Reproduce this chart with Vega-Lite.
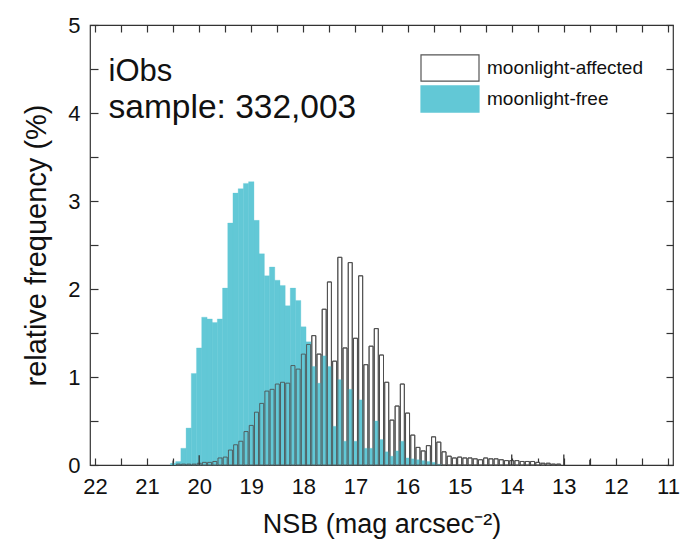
{
  "$schema": "https://vega.github.io/schema/vega-lite/v6.json",
  "width": 583,
  "height": 440,
  "autosize": "none",
  "padding": {"left": 90, "top": 25, "right": 11, "bottom": 90},
  "background": "white",
  "config": {
    "font": "Liberation Sans",
    "view": {"stroke": "#333333", "strokeWidth": 1.2},
    "axis": {"domain": false, "grid": false, "labelFont": "Liberation Sans", "titleFont": "Liberation Sans", "labelColor": "#111111", "titleColor": "#111111", "tickColor": "#333333", "tickWidth": 1.2, "titleFontWeight": "normal", "labelOverlap": false},
    "legend": {"labelFont": "Liberation Sans"}
  },
  "resolve": {"axis": {"x": "independent", "y": "independent"}},
  "datasets": {
    "free": [
      {"nsb": 20.5, "freq": 0.02}, {"nsb": 20.4, "freq": 0.04}, {"nsb": 20.3, "freq": 0.19}, {"nsb": 20.2, "freq": 0.42},
      {"nsb": 20.1, "freq": 1.04}, {"nsb": 20.0, "freq": 1.33}, {"nsb": 19.9, "freq": 1.68}, {"nsb": 19.8, "freq": 1.66},
      {"nsb": 19.7, "freq": 1.62}, {"nsb": 19.6, "freq": 1.66}, {"nsb": 19.5, "freq": 2.01}, {"nsb": 19.4, "freq": 2.75},
      {"nsb": 19.3, "freq": 3.09}, {"nsb": 19.2, "freq": 3.14}, {"nsb": 19.1, "freq": 3.2}, {"nsb": 19.0, "freq": 3.22},
      {"nsb": 18.9, "freq": 2.78}, {"nsb": 18.8, "freq": 2.4}, {"nsb": 18.7, "freq": 2.15}, {"nsb": 18.6, "freq": 2.25},
      {"nsb": 18.5, "freq": 2.1}, {"nsb": 18.4, "freq": 2.04}, {"nsb": 18.3, "freq": 1.81}, {"nsb": 18.2, "freq": 2.01},
      {"nsb": 18.1, "freq": 1.87}, {"nsb": 18.0, "freq": 1.57}, {"nsb": 17.9, "freq": 1.4}, {"nsb": 17.8, "freq": 1.12},
      {"nsb": 17.7, "freq": 0.93}, {"nsb": 17.6, "freq": 1.24}, {"nsb": 17.5, "freq": 1.12}, {"nsb": 17.4, "freq": 0.44},
      {"nsb": 17.3, "freq": 0.97}, {"nsb": 17.2, "freq": 0.27}, {"nsb": 17.1, "freq": 0.86}, {"nsb": 17.0, "freq": 0.27},
      {"nsb": 16.9, "freq": 0.74}, {"nsb": 16.8, "freq": 0.19}, {"nsb": 16.7, "freq": 0.19}, {"nsb": 16.6, "freq": 0.5},
      {"nsb": 16.5, "freq": 0.29}, {"nsb": 16.4, "freq": 0.15}, {"nsb": 16.3, "freq": 0.1}, {"nsb": 16.2, "freq": 0.16},
      {"nsb": 16.1, "freq": 0.27}, {"nsb": 16.0, "freq": 0.08}, {"nsb": 15.9, "freq": 0.07}, {"nsb": 15.8, "freq": 0.06},
      {"nsb": 15.7, "freq": 0.05}, {"nsb": 15.6, "freq": 0.04}, {"nsb": 15.5, "freq": 0.03}, {"nsb": 15.4, "freq": 0.01}
    ],
    "affected": [
      {"nsb": 20.4, "freq": 0.01}, {"nsb": 20.3, "freq": 0.01}, {"nsb": 20.2, "freq": 0.01}, {"nsb": 20.1, "freq": 0.01},
      {"nsb": 20.0, "freq": 0.02}, {"nsb": 19.9, "freq": 0.03}, {"nsb": 19.8, "freq": 0.03}, {"nsb": 19.7, "freq": 0.04},
      {"nsb": 19.6, "freq": 0.08}, {"nsb": 19.5, "freq": 0.09}, {"nsb": 19.4, "freq": 0.17}, {"nsb": 19.3, "freq": 0.23},
      {"nsb": 19.2, "freq": 0.27}, {"nsb": 19.1, "freq": 0.38}, {"nsb": 19.0, "freq": 0.45}, {"nsb": 18.9, "freq": 0.6},
      {"nsb": 18.8, "freq": 0.7}, {"nsb": 18.7, "freq": 0.84}, {"nsb": 18.6, "freq": 0.86}, {"nsb": 18.5, "freq": 0.92},
      {"nsb": 18.4, "freq": 0.94}, {"nsb": 18.3, "freq": 0.93}, {"nsb": 18.2, "freq": 1.13}, {"nsb": 18.1, "freq": 1.09},
      {"nsb": 18.0, "freq": 1.26}, {"nsb": 17.9, "freq": 1.37}, {"nsb": 17.8, "freq": 1.47}, {"nsb": 17.7, "freq": 1.26},
      {"nsb": 17.6, "freq": 1.77}, {"nsb": 17.5, "freq": 2.08}, {"nsb": 17.4, "freq": 1.18}, {"nsb": 17.3, "freq": 2.36},
      {"nsb": 17.2, "freq": 1.33}, {"nsb": 17.1, "freq": 2.3}, {"nsb": 17.0, "freq": 1.44}, {"nsb": 16.9, "freq": 2.15},
      {"nsb": 16.8, "freq": 1.14}, {"nsb": 16.7, "freq": 1.35}, {"nsb": 16.6, "freq": 1.55}, {"nsb": 16.5, "freq": 1.25},
      {"nsb": 16.4, "freq": 0.94}, {"nsb": 16.3, "freq": 0.51}, {"nsb": 16.2, "freq": 0.67}, {"nsb": 16.1, "freq": 0.92},
      {"nsb": 16.0, "freq": 0.59}, {"nsb": 15.9, "freq": 0.34}, {"nsb": 15.8, "freq": 0.2}, {"nsb": 15.7, "freq": 0.16},
      {"nsb": 15.6, "freq": 0.22}, {"nsb": 15.5, "freq": 0.32}, {"nsb": 15.4, "freq": 0.26}, {"nsb": 15.3, "freq": 0.15},
      {"nsb": 15.2, "freq": 0.1}, {"nsb": 15.1, "freq": 0.08}, {"nsb": 15.0, "freq": 0.09}, {"nsb": 14.9, "freq": 0.08},
      {"nsb": 14.8, "freq": 0.08}, {"nsb": 14.7, "freq": 0.07}, {"nsb": 14.6, "freq": 0.06}, {"nsb": 14.5, "freq": 0.08},
      {"nsb": 14.4, "freq": 0.07}, {"nsb": 14.3, "freq": 0.07}, {"nsb": 14.2, "freq": 0.06}, {"nsb": 14.1, "freq": 0.05},
      {"nsb": 14.0, "freq": 0.05}, {"nsb": 13.9, "freq": 0.05}, {"nsb": 13.8, "freq": 0.04}, {"nsb": 13.7, "freq": 0.04},
      {"nsb": 13.6, "freq": 0.04}, {"nsb": 13.5, "freq": 0.03}, {"nsb": 13.4, "freq": 0.02}, {"nsb": 13.3, "freq": 0.02},
      {"nsb": 13.2, "freq": 0.01}, {"nsb": 13.1, "freq": 0.01}
    ],
    "spikes": [
      {"nsb": 20.5, "freq": 0.05}, {"nsb": 20.0, "freq": 0.11}, {"nsb": 14.0, "freq": 0.12},
      {"nsb": 13.0, "freq": 0.12}, {"nsb": 12.5, "freq": 0.06}
    ]
  },
  "layer": [
    {
      "data": {"name": "affected"},
      "transform": [{"calculate": "'moonlight-affected'", "as": "series"}],
      "mark": {"type": "bar", "size": 4, "strokeWidth": 1},
      "encoding": {
        "x": {"field": "nsb", "type": "quantitative", "scale": {"domain": [11, 22], "reverse": true, "nice": false, "zero": false},
          "axis": {"orient": "bottom", "values": [22, 21.5, 21, 20.5, 20, 19.5, 19, 18.5, 18, 17.5, 17, 16.5, 16, 15.5, 15, 14.5, 14, 13.5, 13, 12.5, 12, 11.5, 11],
            "labelExpr": "datum.value % 1 === 0 ? format(datum.value, 'd') : ''", "labelFontSize": 22, "tickSize": -7, "labelPadding": 18,
            "title": "NSB (mag arcsec⁻²)", "titleFontSize": 27, "titlePadding": 14}},
        "y": {"field": "freq", "type": "quantitative", "scale": {"domain": [0, 5], "nice": false},
          "axis": {"orient": "left", "values": [0, 0.5, 1, 1.5, 2, 2.5, 3, 3.5, 4, 4.5, 5],
            "labelExpr": "datum.value % 1 === 0 ? format(datum.value, 'd') : ''", "labelFontSize": 22, "tickSize": -8, "labelPadding": 18,
            "title": "relative frequency (%)", "titleFontSize": 29, "titlePadding": 16}},
        "fill": {"field": "series", "type": "nominal", "scale": {"domain": ["moonlight-affected", "moonlight-free"], "range": ["#ffffff", "#62c8d6"]},
          "legend": {"orient": "none", "legendX": 330, "legendY": 29, "title": null, "symbolType": "M-1,-0.45H1V0.45H-1Z", "symbolSize": 3364, "clipHeight": 28, "rowPadding": 3, "labelFontSize": 19, "labelColor": "#111111", "labelOffset": 7, "symbolStrokeWidth": 1.2, "padding": 0}},
        "stroke": {"field": "series", "type": "nominal", "scale": {"domain": ["moonlight-affected", "moonlight-free"], "range": ["#555555", "#62c8d6"]},
          "legend": {"orient": "none", "legendX": 330, "legendY": 29, "title": null, "symbolType": "M-1,-0.45H1V0.45H-1Z", "symbolSize": 3364, "clipHeight": 28, "rowPadding": 3, "labelFontSize": 19, "labelColor": "#111111", "labelOffset": 7, "symbolStrokeWidth": 1.2, "padding": 0}}
      }
    },
    {
      "data": {"name": "free"},
      "transform": [{"calculate": "'moonlight-free'", "as": "series"}],
      "mark": {"type": "bar", "size": 5.4, "strokeWidth": 0.3},
      "encoding": {
        "x": {"field": "nsb", "type": "quantitative",
          "axis": {"orient": "top", "values": [22, 21.5, 21, 20.5, 20, 19.5, 19, 18.5, 18, 17.5, 17, 16.5, 16, 15.5, 15, 14.5, 14, 13.5, 13, 12.5, 12, 11.5, 11], "labels": false, "tickSize": -7, "title": null}},
        "y": {"field": "freq", "type": "quantitative",
          "axis": {"orient": "right", "values": [0, 0.5, 1, 1.5, 2, 2.5, 3, 3.5, 4, 4.5, 5], "labels": false, "tickSize": -7, "title": null}},
        "fill": {"field": "series", "type": "nominal"},
        "stroke": {"field": "series", "type": "nominal"}
      }
    },
    {
      "data": {"name": "affected"},
      "mark": {"type": "bar", "size": 4, "fillOpacity": 0, "stroke": "#4d4d4d", "strokeWidth": 1, "strokeOpacity": 0.85},
      "encoding": {
        "x": {"field": "nsb", "type": "quantitative", "axis": null},
        "y": {"field": "freq", "type": "quantitative", "axis": null}
      }
    },
    {
      "data": {"name": "spikes"},
      "mark": {"type": "rule", "color": "#333333", "strokeWidth": 1.3},
      "encoding": {
        "x": {"field": "nsb", "type": "quantitative", "axis": null},
        "y": {"field": "freq", "type": "quantitative", "axis": null},
        "y2": {"datum": 0}
      }
    },
    {
      "data": {"values": [{"t": "iObs"}]},
      "mark": {"type": "text", "align": "left", "baseline": "alphabetic", "fontSize": 31, "font": "Liberation Sans", "color": "#111111"},
      "encoding": {"x": {"datum": 21.74, "type": "quantitative", "axis": null}, "y": {"datum": 4.36, "type": "quantitative", "axis": null}, "text": {"field": "t", "type": "nominal"}}
    },
    {
      "data": {"values": [{"t": "sample: 332,003"}]},
      "mark": {"type": "text", "align": "left", "baseline": "alphabetic", "fontSize": 33.5, "font": "Liberation Sans", "color": "#111111"},
      "encoding": {"x": {"datum": 21.74, "type": "quantitative", "axis": null}, "y": {"datum": 3.94, "type": "quantitative", "axis": null}, "text": {"field": "t", "type": "nominal"}}
    }
  ]
}
